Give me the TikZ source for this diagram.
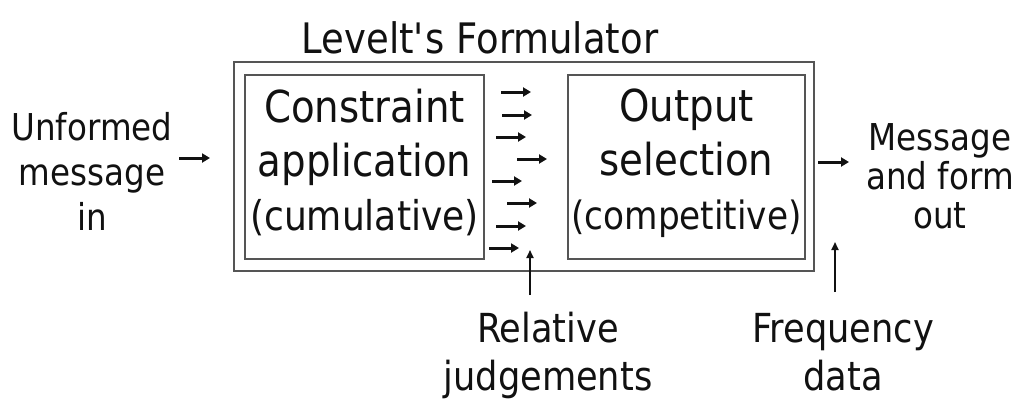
\documentclass[tikz,border=0pt]{standalone}
\usepackage{fontspec}
\setmainfont[FakeStretch=0.88]{DejaVu Sans}
\usetikzlibrary{arrows.meta,positioning}
\definecolor{ink}{HTML}{111111}
\definecolor{edge}{HTML}{555555}
\tikzset{
  every node/.style={inner sep=0pt, outer sep=0pt},
  box/.style={draw=edge, line width=2pt, align=center, minimum height=184pt, text depth=15pt, font=\fontsize{44}{54}\selectfont, text=ink},
  outerbox/.style={draw=edge, line width=2pt, minimum width=580pt, minimum height=209pt},
  title/.style={font=\fontsize{42}{50}\selectfont, text=ink},
  sidetext/.style={font=\fontsize{37}{45}\selectfont, align=center, text=ink},
  bottext/.style={font=\fontsize{40}{48}\selectfont, align=center, text=ink},
  flow/.style={-{Triangle[length=8pt,width=9pt]}, line width=3pt, draw=ink},
  feed/.style={-{Triangle[length=8pt,width=7pt]}, line width=1.8pt, draw=ink},
}
\begin{document}
\begin{tikzpicture}[x=1pt,y=-1pt]
\useasboundingbox (0,0) rectangle (1017,399);
% formulator and its two stages
\node[outerbox] (frm) at (524,166.5) {};
\node[box, minimum width=239pt] (cons) at (364.5,167) {Constraint\\application\\{\fontsize{41}{54}\selectfont(cumulative)}};
\node[box, minimum width=237pt] (outp) at (686.5,167) {Output\\selection\\{\fontsize{39}{54}\selectfont(competitive)}};
\node[title, anchor=base] (ttl) at (480,53) {Levelt\textquotesingle s Formulator};
% labels round it (base = last line)
\node[sidetext, anchor=base] (src) at (92,230) {Unformed\\message\\in};
\node[sidetext, anchor=base, font=\fontsize{37}{39}\selectfont] (dst) at (940,228) {Message\\and form\\out};
\node[bottext, anchor=base] (rel) at (548,390) {Relative\\judgements};
\node[bottext, anchor=base] (frq) at (843,390) {Frequency\\data};
% arrows
\draw[flow] ([shift={(-55,-8.5)}]frm.west) -- ++(31,0);
\draw[flow] ([shift={(4,-4.5)}]frm.east) -- ++(31,0);
\foreach \dx/\dy in {17/17,18/40,12/62,33/84,8/106,23/128,12/151,5/173}
  \draw[flow] ([shift={(\dx,\dy)}]cons.north east) -- ++(30,0);
\draw[feed] ([shift={(46,36)}]cons.south east) -- ++(0,-45);
\draw[feed] ([shift={(21,21)}]frm.south east) -- ++(0,-50);
\end{tikzpicture}
\end{document}
